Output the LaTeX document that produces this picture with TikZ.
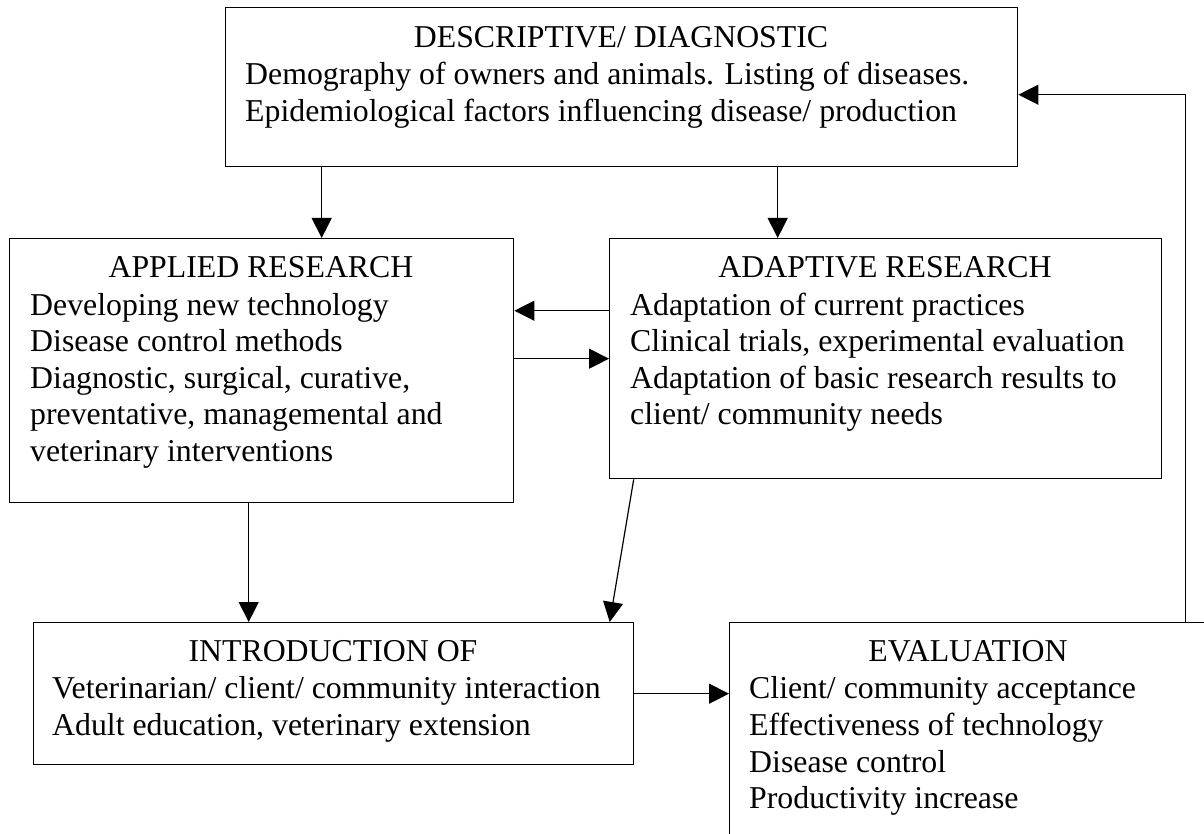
\documentclass[tikz,border=0pt]{standalone}
\usepackage{fontspec}
\setmainfont{Liberation Serif}
\usetikzlibrary{arrows.meta}
\tikzset{
  box/.style={draw, line width=1.4pt, anchor=north west, inner sep=0pt},
  txt/.style={inner sep=0pt, anchor=base west, font=\fontsize{31.8}{36.6}\selectfont},
  ttl/.style={inner sep=0pt, anchor=base, font=\fontsize{31.8}{36.6}\selectfont},
  arr/.style={line width=1.2pt, -{Triangle[length=20pt,width=20pt]}}
}
\begin{document}
\begin{tikzpicture}[x=1pt,y=-1pt]
\useasboundingbox (0,0) rectangle (1204,834);
\fill[white] (0,0) rectangle (1204,834);
\clip (0,0) rectangle (1204,834);
% boxes
\node[box, minimum width=792pt, minimum height=159pt] (top) at (225,7) {};
\node[box, minimum width=504pt, minimum height=264pt] (appl) at (9,238) {};
\node[box, minimum width=552pt, minimum height=240pt] (adap) at (609,238) {};
\node[box, minimum width=600pt, minimum height=142pt] (intro) at (33,622) {};
\node[box, minimum width=478pt, minimum height=260pt] (eval) at (729,622) {};
% top texts
\node[ttl] (topt) at (621,48) {DESCRIPTIVE/ DIAGNOSTIC};
\node[txt] (top1) at (245,85) {Demography of owners and animals. Listing of diseases.};
\node[txt] (top2) at (245,122) {Epidemiological factors influencing disease/ production};
% applied
\node[ttl] (applt) at (261,277) {APPLIED RESEARCH};
\node[txt] (appl1) at (30,315) {Developing new technology};
\node[txt] (appl2) at (30,351.5) {Disease control methods};
\node[txt] (appl3) at (30,388) {Diagnostic, surgical, curative,};
\node[txt] (appl4) at (30,424.5) {preventative, managemental and};
\node[txt] (appl5) at (30,461) {veterinary interventions};
% adaptive
\node[ttl] (adapt) at (885,277) {ADAPTIVE RESEARCH};
\node[txt] (adap1) at (630,315) {Adaptation of current practices};
\node[txt] (adap2) at (630,351.5) {Clinical trials, experimental evaluation};
\node[txt] (adap3) at (630,388) {Adaptation of basic research results to};
\node[txt] (adap4) at (630,424.5) {client/ community needs};
% introduction
\node[ttl] (introt) at (333,661) {INTRODUCTION OF};
\node[txt] (intro1) at (52,698) {Veterinarian/ client/ community interaction};
\node[txt] (intro2) at (52,735) {Adult education, veterinary extension};
% evaluation
\node[ttl] (evalt) at (968,661) {EVALUATION};
\node[txt] (eval1) at (749,698) {Client/ community acceptance};
\node[txt] (eval2) at (749,735) {Effectiveness of technology};
\node[txt] (eval3) at (749,772) {Disease control};
\node[txt] (eval4) at (749,808) {Productivity increase};
% connectors
\draw[arr] ([xshift=-300pt]top.south) -- ([xshift=60pt]appl.north);
\draw[arr] ([xshift=156pt]top.south) -- ([xshift=-108pt]adap.north);
\draw[arr] ([yshift=48pt]adap.west) -- ([yshift=60pt]appl.east);
\draw[arr] ([yshift=12pt]appl.east) -- (adap.west);
\draw[arr] ([xshift=-13pt]appl.south) -- ([xshift=-85pt]intro.north);
\draw[arr] ([xshift=-252pt]adap.south) -- ([xshift=276pt]intro.north);
\draw[arr] (intro.east) -- (intro.east -| eval.west);
\draw[arr] ([xshift=217pt]eval.north) |- ([yshift=-7.5pt]top.east);
\end{tikzpicture}
\end{document}
